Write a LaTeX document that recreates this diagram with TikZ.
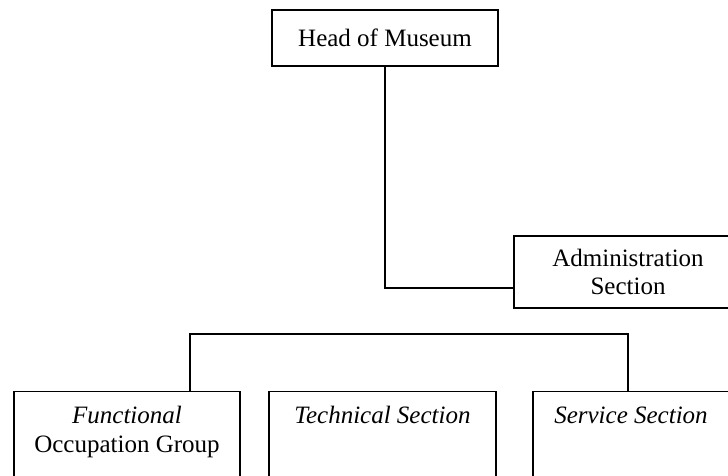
\documentclass[tikz,border=0pt]{standalone}
\usepackage{fontspec}
\setmainfont{Liberation Serif}
\begin{document}
\begin{tikzpicture}[x=1pt,y=-1pt,
	every node/.style={font=\fontsize{25}{28.5}\selectfont},
	unit/.style={draw,line width=1.1pt,align=center,inner sep=0pt},
	subunit/.style={unit,anchor=north,inner ysep=8pt,text height=24pt,text depth=110pt}]
	\useasboundingbox (0,0) rectangle (728,475);
	\clip (0,0) rectangle (728,475);
	
	% Top of the chart
	\node[unit,minimum width=226pt,minimum height=56pt] (head) at (385,38) {Head of Museum};
	\node[unit,minimum width=228pt,minimum height=72pt] (admin) at (628,272) {Administration\\Section};
	
	% Sections below
	\node[subunit,minimum width=226pt,text height=52.5pt] (func) at (127,391) {\textit{Functional}\\Occupation Group};
	\node[subunit,minimum width=227pt] (tech) at (382.5,391) {\textit{Technical Section}};
	\node[subunit,minimum width=196pt] (serv) at (631,391) {\textit{Service Section}};
	
	\coordinate (busL) at (190,334);
	\coordinate (busR) at (628,334);
	
	\draw[line width=1.1pt] (head.south) |- ([yshift=-16pt]admin.west);
	\draw[line width=1.1pt] (func.north -| busL) -- (busL) -- (busR) -- (serv.north -| busR);
	
\end{tikzpicture}
\end{document}
